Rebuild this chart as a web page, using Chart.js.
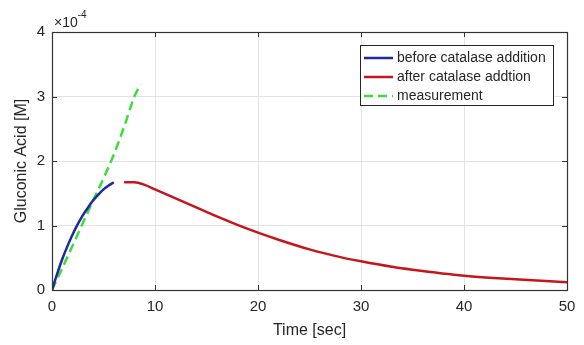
<!DOCTYPE html>
<html>
<head>
<meta charset="utf-8">
<script src="https://cdn.jsdelivr.net/npm/chart.js"></script>
<style>
  html, body { margin: 0; padding: 0; background: #fff; }
  #wrap { width: 584px; height: 345px; }
</style>
</head>
<body>
<div id="wrap"><canvas id="lineChart"></canvas></div>
<script>
// values in units of 1e-4 M
var beforeTime = [0, 0.5, 1, 1.5, 2, 2.5, 3, 3.5, 4, 4.5, 5, 5.5, 6];
var beforeConc = [0, 0.25, 0.48, 0.68, 0.86, 1.02, 1.16, 1.28, 1.39, 1.48, 1.56, 1.62, 1.67];

var afterTime = [7, 8, 9, 10, 12, 14, 16, 18, 20, 22, 25, 28, 30, 33, 35, 40, 45, 50];
var afterConc = [1.67, 1.67, 1.63, 1.56, 1.42, 1.28, 1.14, 1.01, 0.89, 0.78, 0.63, 0.51, 0.445, 0.36, 0.315, 0.222, 0.165, 0.12];

var measTime = [0, 1, 2, 3, 4, 5, 6, 7, 8, 8.6];
var measConc = [0, 0.34, 0.69, 1.04, 1.39, 1.73, 2.1, 2.53, 3.0, 3.19];

var xTicks = [0, 10, 20, 30, 40, 50];
var yTicks = [0, 1, 2, 3, 4];

var FONT = '"Liberation Sans", Arial, sans-serif';
var INK = '#262626';

function pts(xs, ys) {
    var out = [];
    for (var i = 0; i < xs.length; i++) out.push({ x: xs[i], y: ys[i] });
    return out;
}

// axes box, inward ticks, exponent label and legend box, matlab style
var matlabBits = {
    id: 'matlabBits',
    afterDatasetsDraw: function (chart) {
        var ctx = chart.ctx;
        var a = chart.chartArea;
        var xs = chart.scales.x, ys = chart.scales.y;
        ctx.save();
        ctx.strokeStyle = '#333';
        ctx.lineWidth = 1.2;
        ctx.strokeRect(Math.round(a.left) + 0.5, Math.round(a.top) + 0.5,
            Math.round(a.right - a.left), Math.round(a.bottom - a.top));

        ctx.lineWidth = 1;
        ctx.beginPath();
        xTicks.forEach(function (v) {
            var px = Math.round(xs.getPixelForValue(v)) + 0.5;
            ctx.moveTo(px, a.bottom); ctx.lineTo(px, a.bottom - 5);
            ctx.moveTo(px, a.top); ctx.lineTo(px, a.top + 5);
        });
        yTicks.forEach(function (v) {
            var py = Math.round(ys.getPixelForValue(v)) + 0.5;
            ctx.moveTo(a.left, py); ctx.lineTo(a.left + 5, py);
            ctx.moveTo(a.right, py); ctx.lineTo(a.right - 5, py);
        });
        ctx.stroke();

        // x10^-4
        ctx.fillStyle = INK;
        ctx.textBaseline = 'alphabetic';
        ctx.textAlign = 'left';
        ctx.font = '14px ' + FONT;
        ctx.fillText('\u00d710', a.left + 2, a.top - 5);
        var w = ctx.measureText('\u00d710').width;
        ctx.font = '10px ' + FONT;
        ctx.fillText('-4', a.left + 2 + w, a.top - 14);

        // legend
        var bx = 360, by = 45, bw = 193, bh = 60;
        ctx.fillStyle = '#fff';
        ctx.fillRect(bx, by, bw, bh);
        ctx.strokeStyle = INK;
        ctx.strokeRect(bx + 0.5, by + 0.5, bw, bh);
        ctx.font = '14px ' + FONT;
        ctx.textBaseline = 'middle';
        chart.data.datasets.forEach(function (ds, i) {
            var cy = by + 13 + i * 19;
            ctx.strokeStyle = ds.borderColor;
            ctx.lineWidth = ds.borderWidth;
            ctx.setLineDash(ds.borderDash || []);
            ctx.beginPath();
            ctx.moveTo(bx + 4, cy); ctx.lineTo(bx + 33, cy);
            ctx.stroke();
            ctx.setLineDash([]);
            ctx.fillStyle = INK;
            ctx.fillText(ds.label, bx + 37, cy);
        });
        ctx.restore();
    }
};

var ctx = document.getElementById('lineChart').getContext('2d');
var chart = new Chart(ctx, {
    type: 'line',
    data: {
        datasets: [
            {
                label: 'before catalase addition',
                data: pts(beforeTime, beforeConc),
                borderColor: '#1c2a9c',
                borderWidth: 2.5,
                pointRadius: 0,
                cubicInterpolationMode: 'monotone',
                fill: false
            },
            {
                label: 'after catalase addtion',
                data: pts(afterTime, afterConc),
                borderColor: '#c4161c',
                borderWidth: 2.5,
                pointRadius: 0,
                cubicInterpolationMode: 'monotone',
                fill: false
            },
            {
                label: 'measurement',
                data: pts(measTime, measConc),
                borderColor: '#3ddc3d',
                borderWidth: 2.5,
                borderDash: [9, 5],
                pointRadius: 0,
                cubicInterpolationMode: 'monotone',
                fill: false
            }
        ]
    },
    options: {
        responsive: true,
        maintainAspectRatio: false,
        animation: false,
        layout: { padding: { left: 0, right: 17, top: 32, bottom: 0 } },
        plugins: {
            legend: { display: false },
            tooltip: { enabled: false }
        },
        scales: {
            x: {
                type: 'linear',
                position: 'bottom',
                min: 0,
                max: 50,
                afterBuildTicks: function (s) { s.ticks = xTicks.map(function (v) { return { value: v }; }); },
                afterFit: function (s) { s.height = 55; },
                grid: { color: '#e3e3e3', drawTicks: false },
                border: { display: false },
                ticks: { color: INK, font: { family: FONT, size: 15 }, padding: 8, maxRotation: 0 },
                title: {
                    display: true,
                    text: 'Time [sec]',
                    color: INK,
                    font: { family: FONT, size: 16 },
                    padding: { top: 0, bottom: 5 }
                }
            },
            y: {
                min: 0,
                max: 4,
                afterBuildTicks: function (s) { s.ticks = yTicks.map(function (v) { return { value: v }; }); },
                afterFit: function (s) { s.width = 52; },
                grid: { color: '#e3e3e3', drawTicks: false },
                border: { display: false },
                ticks: { color: INK, font: { family: FONT, size: 15 }, padding: 7 },
                title: {
                    display: true,
                    text: 'Gluconic Acid [M]',
                    color: INK,
                    font: { family: FONT, size: 16 },
                    padding: { top: 12, bottom: 0 }
                }
            }
        }
    },
    plugins: [matlabBits]
});
</script>
</body>
</html>
